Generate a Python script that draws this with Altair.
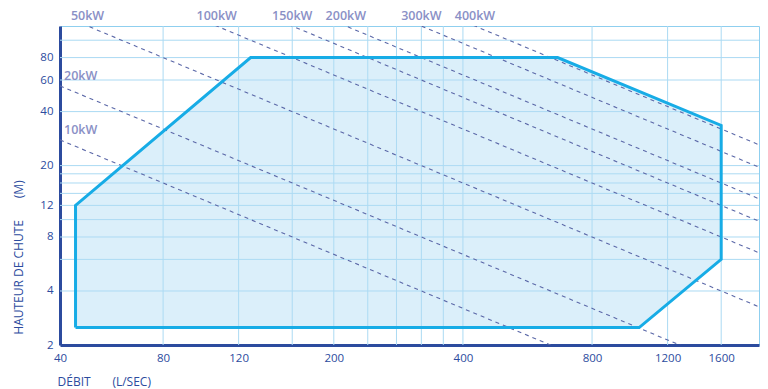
import altair as alt
import pandas as pd

# ---- data ----
q_ticks = [46, 80, 120, 200, 400, 800, 1200, 1600]          # first tick drawn at the axis start, labelled "40"
h_ticks = [2, 4, 8, 12, 20, 40, 60, 80]
q_grid = [80, 120, 160, 200, 240, 280, 320, 360, 400, 800, 1200, 1600]
h_grid = [4, 6, 8, 10, 12, 14, 16, 18, 20, 40, 60, 80, 100]

env_q = [50, 50, 128, 665, 1600, 1600, 1030, 50]
env_h = [2.5, 12, 80, 80, 33.5, 6, 2.5, 2.5]

powers = [10, 20, 50, 100, 150, 200, 300, 400]      # kW iso-power lines
top_labels = [50, 100, 150, 200, 300, 400]
left_labels = [10, 20]
K = 128          # (L/s * m) per kW

Q_MIN, Q_MAX = 46, 1960
H_MIN, H_MAX = 2, 120

# ---- styles ----
FONT = "Open Sans"
NAVY = "#2c4b9e"
GRID = "#abdaf3"
CYAN = "#17ace6"
DASH = "#5b68a8"
KW = "#8a90c6"

xs = alt.Scale(type="log", domain=[Q_MIN, Q_MAX], nice=False)
ys = alt.Scale(type="log", domain=[H_MIN, H_MAX], nice=False)

nb = "\u00a0"
x_axis = alt.Axis(
    values=q_ticks,
    labelExpr="datum.value < 50 ? '40' : format(datum.value, 'd')",
    grid=False, ticks=False, tickSize=0, labelFlush=False,
    domainColor=NAVY, domainWidth=3,
    labelColor=NAVY, labelFont=FONT, labelFontSize=11.5, labelPadding=7,
    title="DÉBIT" + nb * 7 + "(L/SEC)",
    titleFont=FONT, titleFontSize=12, titleFontWeight=500, titleColor=NAVY,
    titleX=-3, titleY=36, titleAlign="left", titleBaseline="middle",
)
y_axis = alt.Axis(
    values=h_ticks, format="d",
    grid=False, ticks=False, tickSize=0, labelFlush=False,
    domainColor=NAVY, domainWidth=3,
    labelColor=NAVY, labelFont=FONT, labelFontSize=11.5, labelPadding=7,
    title="HAUTEUR DE CHUTE" + nb * 7 + "(M)",
    titleFont=FONT, titleFontSize=12, titleFontWeight=500, titleColor=NAVY,
    titleX=-42, titleY=231, titleAngle=270, titleAlign="center", titleBaseline="middle",
)

X = alt.X("Q:Q", scale=xs, axis=x_axis)
Y = alt.Y("H:Q", scale=ys, axis=y_axis)

# grid
xgrid = alt.Chart(pd.DataFrame({"Q": q_grid})).mark_rule(color=GRID, strokeWidth=1).encode(x=X)
ygrid = alt.Chart(pd.DataFrame({"H": h_grid})).mark_rule(color=GRID, strokeWidth=1).encode(y=Y)

# envelope
env_df = pd.DataFrame({"Q": env_q, "H": env_h, "i": list(range(len(env_q)))})
env_fill = alt.Chart(env_df).mark_line(
    fill="#b0dcf4", fillOpacity=0.45, stroke="transparent"
).encode(x=X, y=Y, order="i:Q")
env_line = alt.Chart(env_df).mark_line(
    color=CYAN, strokeWidth=3, strokeJoin="miter"
).encode(x=X, y=Y, order="i:Q")

# iso-power lines
rows = []
for p in powers:
    rows.append({"P": p, "Q": Q_MIN, "H": K * p / Q_MIN})
    rows.append({"P": p, "Q": Q_MAX, "H": K * p / Q_MAX})
pw = pd.DataFrame(rows)
pw_lines = alt.Chart(pw).mark_line(
    color=DASH, strokeWidth=1.1, strokeDash=[4, 4], clip=True
).encode(x=X, y=Y, detail="P:N")

top_df = pd.DataFrame({
    "Q": [K * p / H_MAX for p in top_labels],
    "H": [H_MAX] * len(top_labels),
    "t": [f"{p}kW" for p in top_labels],
})
top_txt = alt.Chart(top_df).mark_text(
    font=FONT, fontSize=12.5, fontWeight=600, color=KW, dy=-10, align="center", baseline="middle"
).encode(x=X, y=Y, text="t:N")

left_df = pd.DataFrame({
    "Q": [Q_MIN] * len(left_labels),
    "H": [K * p / Q_MIN for p in left_labels],
    "t": [f"{p}kW" for p in left_labels],
})
left_txt = alt.Chart(left_df).mark_text(
    font=FONT, fontSize=12.5, fontWeight=600, color=KW, dx=4, dy=-10, align="left", baseline="middle"
).encode(x=X, y=Y, text="t:N")

chart = alt.layer(
    ygrid, xgrid, env_fill, pw_lines, env_line, top_txt, left_txt
).properties(
    width=699, height=319,
    autosize=alt.AutoSizeParams(type="none"),
    padding={"left": 52, "top": 18, "right": 1, "bottom": 44},
).configure_view(
    stroke="#8fcfef", strokeWidth=1
)

chart.save("out.html", embed_options={"renderer": "svg", "actions": False})
